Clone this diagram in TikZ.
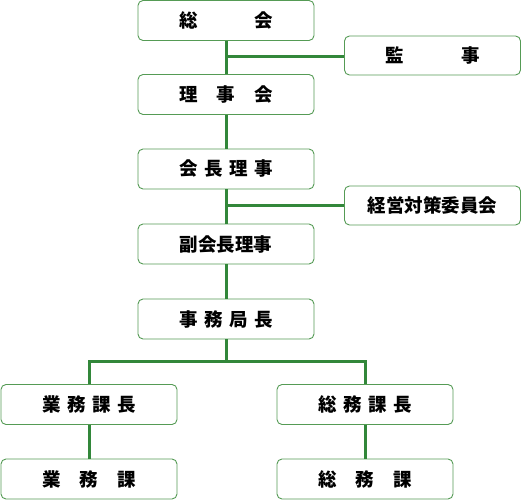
\documentclass[tikz,border=0pt]{standalone}
\usepackage{fontspec}
\newfontfamily\jp{Noto Sans CJK JP}
\definecolor{lineg}{RGB}{50,135,58}
\definecolor{boxg}{RGB}{85,155,85}
\tikzset{
  orgbox/.style={draw=boxg, line width=0.9pt, rounded corners=5pt, fill=white,
    minimum width=176pt, minimum height=40pt, inner sep=0pt,
    font=\jp\bfseries\fontsize{18.5}{20}\selectfont, text=black},
  link/.style={draw=lineg, line width=3pt}
}
\newcommand{\spread}[1]{\makebox[94pt][s]{#1}}
\begin{document}
\begin{tikzpicture}[x=1pt,y=-1pt]
\useasboundingbox (0,0) rectangle (522,502);
\node[orgbox] (soukai) at (226,20.5) {\spread{総\hfill 会}};
\node[orgbox, minimum height=39pt] (kansa) at (432.5,55.5) {\spread{監\hfill 事}};
\node[orgbox] (rijikai) at (226,94.5) {\spread{理\hfill 事\hfill 会}};
\node[orgbox] (kaicho) at (226,169) {\spread{会\hfill 長\hfill 理\hfill 事}};
\node[orgbox, minimum height=39pt] (iinkai) at (432.5,205.5) {経営対策委員会};
\node[orgbox] (fuku) at (226,244) {副会長理事};
\node[orgbox] (jimu) at (226,319) {\spread{事\hfill 務\hfill 局\hfill 長}};
\node[orgbox] (gyomuch) at (89,404.5) {\spread{業\hfill 務\hfill 課\hfill 長}};
\node[orgbox] (somuch) at (365,404.5) {\spread{総\hfill 務\hfill 課\hfill 長}};
\node[orgbox] (gyomu) at (89,479) {\spread{業\hfill 務\hfill 課}};
\node[orgbox] (somu) at (365,479) {\spread{総\hfill 務\hfill 課}};
\coordinate (bus) at (226,362);
\coordinate (j1) at (226,57);
\coordinate (j2) at (226,206);
\draw[link] (soukai.south) -- (rijikai.north);
\draw[link] (j1) -- (kansa.west |- j1);
\draw[link] (rijikai.south) -- (kaicho.north);
\draw[link] (kaicho.south) -- (fuku.north);
\draw[link] (j2) -- (iinkai.west |- j2);
\draw[link] (fuku.south) -- (jimu.north);
\draw[link] (jimu.south) -- (bus);
\draw[link] (gyomuch.north) |- (bus) -| (somuch.north);
\draw[link] (gyomuch.south) -- (gyomu.north);
\draw[link] (somuch.south) -- (somu.north);
\end{tikzpicture}
\end{document}
